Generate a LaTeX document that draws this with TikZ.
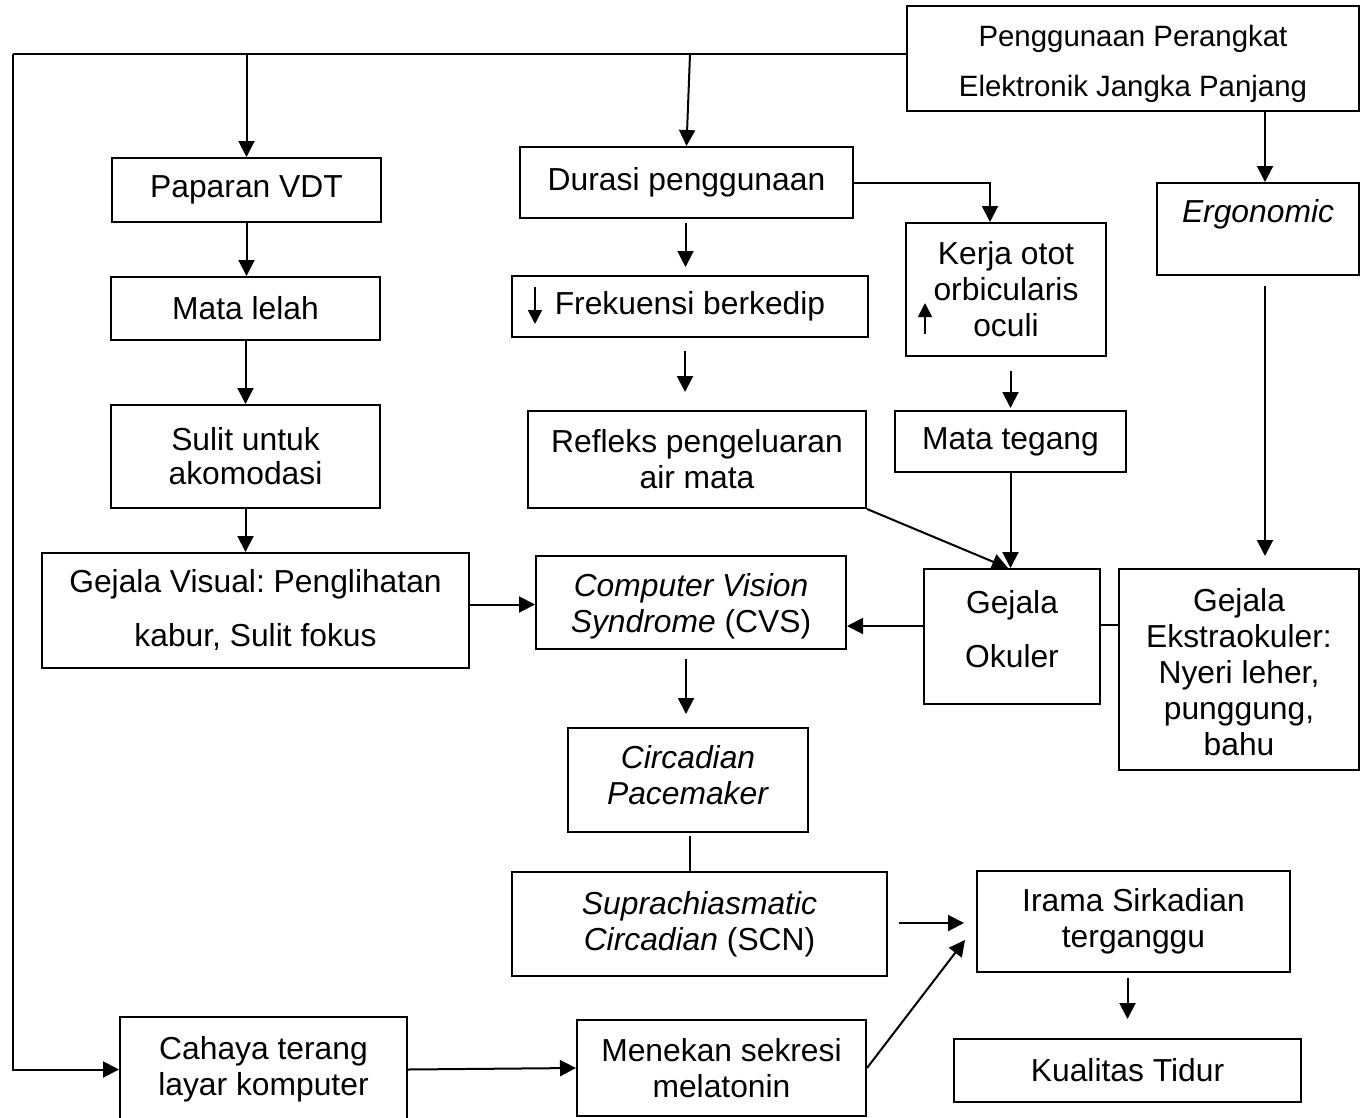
\documentclass[tikz,border=0pt]{standalone}
\usepackage{fontspec}
\setmainfont{Liberation Sans}
\usetikzlibrary{arrows.meta,calc}
\frenchspacing
\begin{document}
\begin{tikzpicture}[x=1pt,y=-1pt,
  box/.style={draw,line width=2pt,inner sep=0pt,align=center,font=\fontsize{31.8}{36}\selectfont},
  arr/.style={line width=2pt,-{Triangle[length=16pt,width=16pt]}},
  ln/.style={line width=2pt},
  smallarr/.style={line width=1.8pt,-{Triangle[length=14pt,width=14pt]}}]
\useasboundingbox (0,0) rectangle (1365,1117);
% boxes
\node[box,minimum width=452pt,minimum height=105pt,font=\fontsize{29.4}{36}\selectfont] (top) at (1133,58.5) {\rule{0pt}{31.5pt}Penggunaan Perangkat\\[14pt]Elektronik Jangka Panjang};
\node[box,minimum width=269pt,minimum height=64pt] (paparan) at (246.5,190) {Paparan VDT};
\node[box,minimum width=269pt,minimum height=63pt] (lelah) at (245.5,308.5) {Mata lelah};
\node[box,minimum width=269pt,minimum height=103pt] (sulit) at (245.5,456.5) {Sulit untuk\\[-2pt]akomodasi};
\node[box,minimum width=427pt,minimum height=115pt] (visual) at (255.5,610.5) {Gejala Visual: Penglihatan\\[18pt]kabur, Sulit fokus};
\node[box,minimum width=310pt,minimum height=93pt] (cvs) at (691,602.5) {\rule{0pt}{31pt}\textit{Computer Vision}\\\textit{Syndrome} (CVS)};
\node[box,minimum width=333pt,minimum height=71pt] (durasi) at (686.5,182.5) {\raisebox{4pt}{Durasi penggunaan}};
\node[box,minimum width=356pt,minimum height=61pt] (frek) at (690,306.5) {Frekuensi berkedip};
\node[box,minimum width=338pt,minimum height=97pt] (refleks) at (697,459.5) {Refleks pengeluaran\\air mata};
\node[box,minimum width=200pt,minimum height=133pt] (kerja) at (1006,289.5) {Kerja otot\\orbicularis\\oculi};
\node[box,minimum width=202pt,minimum height=92pt] (ergo) at (1258,229) {\textit{Ergonomic}\\\mbox{}};
\node[box,minimum width=231pt,minimum height=61pt] (tegang) at (1010.5,441.5) {Mata tegang};
\node[box,minimum width=176pt,minimum height=135pt] (okuler) at (1012,636.5) {Gejala\\[18pt]Okuler\\[-20pt]\mbox{}};
\node[box,minimum width=240pt,minimum height=201pt] (ekstra) at (1239,669.5) {\rule{0pt}{29pt}Gejala\\Ekstraokuler:\\Nyeri leher,\\punggung,\\bahu};
\node[box,minimum width=240pt,minimum height=104pt] (circ) at (688,780) {\textit{Circadian}\\\textit{Pacemaker}\rule[-10pt]{0pt}{10pt}};
\node[box,minimum width=375pt,minimum height=104pt] (scn) at (699.5,924) {\textit{Suprachiasmatic}\\\textit{Circadian} (SCN)};
\node[box,minimum width=313pt,minimum height=101pt] (irama) at (1133.5,921.5) {Irama Sirkadian\\terganggu};
\node[box,minimum width=347pt,minimum height=63pt] (kual) at (1127.5,1070.5) {Kualitas Tidur};
\node[box,minimum width=287pt,minimum height=105pt] (cahaya) at (263.5,1069.5) {Cahaya terang\\layar komputer};
\node[box,minimum width=289pt,minimum height=96pt] (menekan) at (721.5,1068) {Menekan sekresi\\melatonin};
% helper coordinates
\coordinate (bus) at (13,54);
\coordinate (b2) at (690,54);
\coordinate (ergoin) at ($(ergo.north)+(7,0)$);
\coordinate (ergoout) at ($(ergo.south)+(7,10)$);
\coordinate (visout) at ($(visual.east)+(0,-6)$);
\coordinate (durout) at ($(durasi.south)+(-1,0)$);
\coordinate (frekout) at ($(frek.south)+(-5,0)$);
\coordinate (kerjain) at ($(kerja.north)+(-16,0)$);
\coordinate (okuin) at ($(okuler.north)+(-4,0)$);
\coordinate (okuout) at ($(okuler.west)+(0,-10.5)$);
\coordinate (okuex) at ($(okuler.east)+(0,-11.5)$);
\coordinate (cvsout) at ($(cvs.south)+(-5,0)$);
\coordinate (circout) at ($(circ.south)+(2,0)$);
\coordinate (scnout) at ($(scn.east)+(0,-1)$);
\coordinate (iramain) at ($(irama.south west)+(-11,-33)$);
% bus line
\draw[ln] (top.west |- bus) -- (bus);
\draw[arr] (bus) -- (bus |- cahaya.west) -- (cahaya.west);
\draw[arr] (paparan.north |- bus) -- (paparan.north);
\draw[arr] (b2) -- (durasi.north);
\draw[arr] (ergoin |- top.south) -- (ergoin);
\draw[arr,shorten >=12pt] (ergoout) -- (ergoout |- ekstra.north);
% left column
\draw[arr] (paparan.south) -- (paparan.south |- lelah.north);
\draw[arr] (lelah.south) -- (lelah.south |- sulit.north);
\draw[arr] (sulit.south) -- (sulit.south |- visual.north);
\draw[arr] (visout) -- (visout -| cvs.west);
% middle column
\draw[arr,shorten <=4pt,shorten >=8pt] (durout) -- (durout |- frek.north);
\draw[arr,shorten <=13pt,shorten >=18pt] (frekout) -- (frekout |- refleks.north);
\draw[arr] (durasi.east) -| (kerjain);
\draw[arr,shorten <=14pt,shorten >=2pt] (tegang.north |- kerja.south) -- (tegang.north);
\draw[arr] (tegang.south) -- (tegang.south |- okuler.north);
\draw[arr] (refleks.south east) -- (okuin);
\draw[arr] (okuout) -- (okuout -| cvs.east);
\draw[ln] (okuex) -- (okuex -| ekstra.west);
\draw[arr,shorten <=9pt,shorten >=13pt] (cvsout) -- (cvsout |- circ.north);
\draw[ln,shorten <=3pt] (circout) -- (circout |- scn.north);
\draw[arr,shorten <=11pt,shorten >=12pt] (scnout) -- (scnout -| irama.west);
\draw[arr] (menekan.east) -- (iramain);
\draw[arr,shorten <=5pt,shorten >=19pt] (kual.north |- irama.south) -- (kual.north);
\draw[arr] (cahaya.east) -- (menekan.west);
% small arrows inside boxes
\draw[smallarr] ($(frek.west)+(24,-19.5)$) -- ($(frek.west)+(24,17.5)$);
\draw[smallarr] ($(kerja.south west)+(20,-23)$) -- ($(kerja.south west)+(20,-54)$);
\end{tikzpicture}
\end{document}
